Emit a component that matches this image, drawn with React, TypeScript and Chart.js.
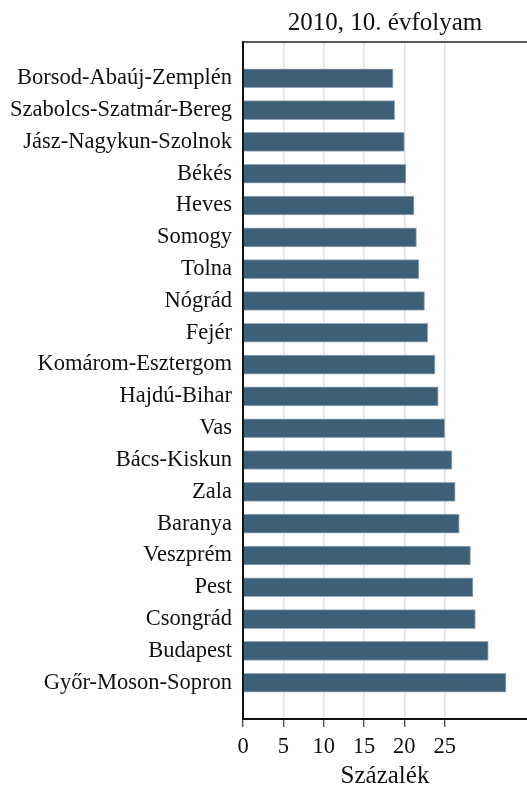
import React, { useEffect, useRef } from "react";
import { Chart, registerables } from "chart.js";

Chart.register(...registerables);

const regions = [
  "Borsod-Abaúj-Zemplén",
  "Szabolcs-Szatmár-Bereg",
  "Jász-Nagykun-Szolnok",
  "Békés",
  "Heves",
  "Somogy",
  "Tolna",
  "Nógrád",
  "Fejér",
  "Komárom-Esztergom",
  "Hajdú-Bihar",
  "Vas",
  "Bács-Kiskun",
  "Zala",
  "Baranya",
  "Veszprém",
  "Pest",
  "Csongrád",
  "Budapest",
  "Győr-Moson-Sopron",
];

const values = [
  18.6, 18.8, 20.0, 20.2, 21.2, 21.5, 21.8, 22.5, 22.9, 23.8,
  24.2, 25.0, 25.9, 26.3, 26.8, 28.2, 28.5, 28.8, 30.4, 32.6,
];

const xTicks = [0, 5, 10, 15, 20, 25];

const titleText = "2010, 10. évfolyam";
const xTitle = "Százalék";

const FONT = "'Liberation Serif', 'Times New Roman', serif";

const topLine = {
  id: "topLine",
  afterDraw(chart: any) {
    const { ctx, chartArea } = chart;
    ctx.save();
    ctx.strokeStyle = "#222";
    ctx.lineWidth = 1.5;
    ctx.beginPath();
    ctx.moveTo(chartArea.left, chartArea.top);
    ctx.lineTo(chartArea.right, chartArea.top);
    ctx.stroke();
    ctx.restore();
  },
};

export default function App() {
  const ref = useRef<HTMLCanvasElement>(null);

  useEffect(() => {
    if (!ref.current) return;
    const chart = new Chart(ref.current, {
      type: "bar",
      data: {
        datasets: [
          {
            data: regions.map((_, i) => ({ x: values[i], y: i })) as any,
            backgroundColor: "#3d5f78",
            borderColor: "rgba(140,162,182,0.9)",
            borderWidth: 1,
            borderSkipped: "left",
            barThickness: 19,
          },
        ],
      },
      options: {
        indexAxis: "y",
        animation: false,
        responsive: false,
        maintainAspectRatio: false,
        layout: { padding: { left: 0, right: 0, top: 0, bottom: 0 } },
        plugins: {
          legend: { display: false },
          tooltip: { enabled: false },
          title: {
            display: true,
            text: titleText,
            fullSize: false,
            color: "#111",
            font: { family: FONT, size: 25, weight: "normal" },
            padding: { top: 8, bottom: 4 },
          },
        },
        scales: {
          x: {
            type: "linear",
            min: 0,
            max: 35.2,
            afterBuildTicks: (scale: any) => {
              scale.ticks = xTicks.map((v) => ({ value: v }));
            },
            afterFit: (scale: any) => {
              scale.height = 72;
            },
            grid: {
              color: "#e2e2e2",
              lineWidth: 1.5,
              tickColor: "#111",
              tickLength: 8,
              tickWidth: 1,
            },
            border: { color: "#111", width: 2 },
            ticks: {
              color: "#111",
              font: { family: FONT, size: 22.5 },
              padding: 7,
              maxRotation: 0,
            },
            title: {
              display: true,
              text: xTitle,
              color: "#111",
              font: { family: FONT, size: 25 },
              padding: { top: 2, bottom: 0 },
            },
          },
          y: {
            type: "linear",
            reverse: true,
            offset: false,
            min: -1.14,
            max: 20.14,
            afterBuildTicks: (scale: any) => {
              scale.ticks = regions.map((_, i) => ({ value: i }));
            },
            afterFit: (scale: any) => {
              scale.width = 243;
            },
            grid: { display: false, drawTicks: false, offset: false },
            border: { color: "#111", width: 2 },
            ticks: {
              color: "#111",
              font: { family: FONT, size: 22.5 },
              padding: 11,
              autoSkip: false,
              callback: (v: any) => regions[v as number] ?? "",
            },
          },
        },
      },
      plugins: [topLine],
    });
    return () => chart.destroy();
  }, []);

  return (
    <div style={{ position: "fixed", left: 0, top: 0, width: 527, height: 791, background: "#fff" }}>
      <canvas ref={ref} width={527} height={791} />
    </div>
  );
}
